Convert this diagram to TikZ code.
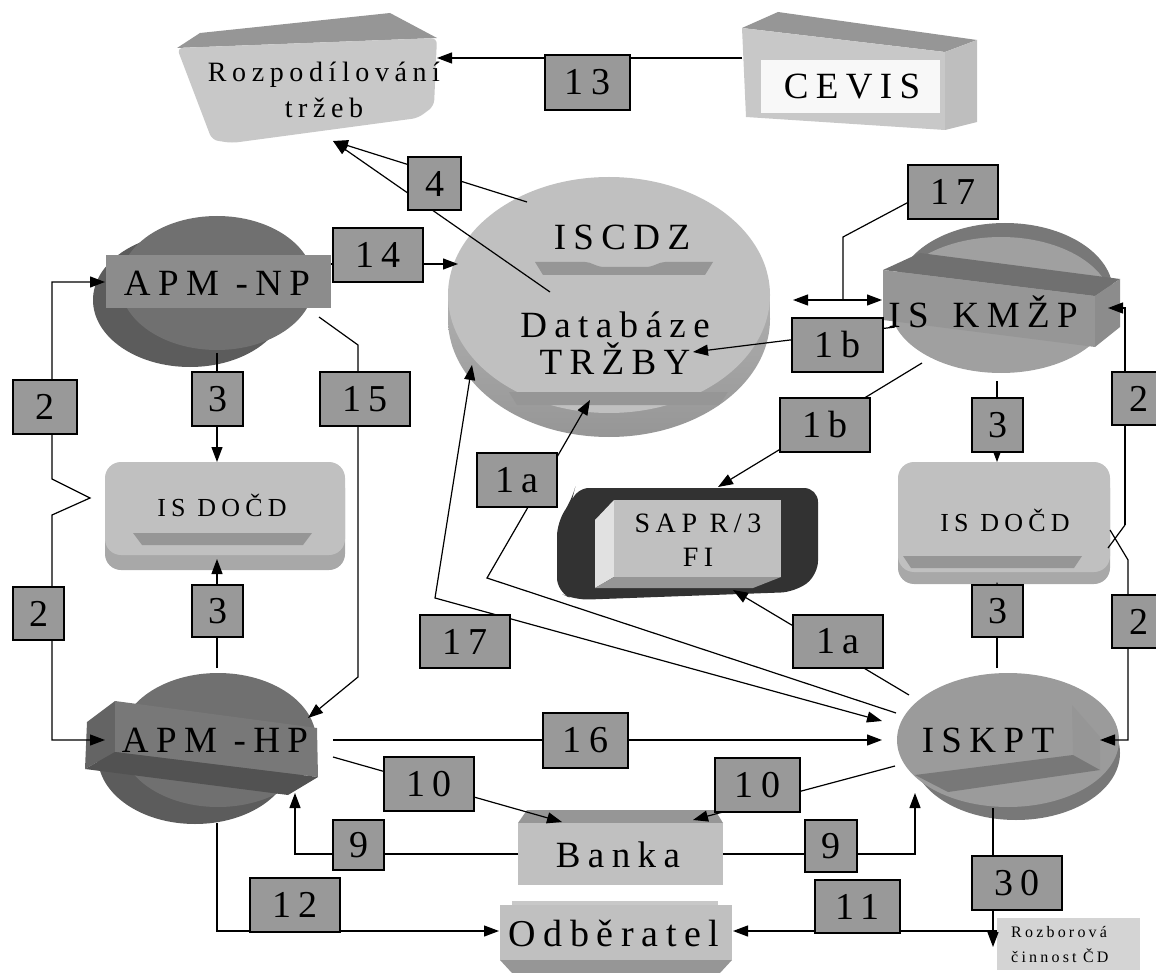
\documentclass[tikz,border=0pt]{standalone}
\usepackage{fontspec}
\setmainfont{Liberation Serif}
\newfontfamily\spaced[LetterSpace=20]{Liberation Serif}
\usetikzlibrary{arrows.meta}

\definecolor{lblgray}{RGB}{153,153,153}
\definecolor{c50}{RGB}{50,50,50}
\definecolor{c80}{RGB}{82,82,82}
\definecolor{c90}{RGB}{92,92,92}
\definecolor{c100}{RGB}{100,100,100}
\definecolor{c112}{RGB}{112,112,112}
\definecolor{c120}{RGB}{120,120,120}
\definecolor{c140}{RGB}{140,140,140}
\definecolor{c150}{RGB}{150,150,150}
\definecolor{c155}{RGB}{155,155,155}
\definecolor{c160}{RGB}{160,160,160}
\definecolor{c165}{RGB}{168,168,168}
\definecolor{c180}{RGB}{180,180,180}
\definecolor{c190}{RGB}{190,190,190}
\definecolor{c192}{RGB}{192,192,192}
\definecolor{c200}{RGB}{200,200,200}
\definecolor{c212}{RGB}{212,212,212}
\definecolor{c225}{RGB}{225,225,225}
\definecolor{c248}{RGB}{248,248,248}

\newcommand\tsz[2]{\spaced\fontsize{#1}{#2}\selectfont}
% label box given by its corners: name, x1, y1, x2, y2, text
\newcommand\lbox[6]{\node[lbl, minimum width={(#4-#2)*1pt}, minimum height={(#5-#3)*1pt}] (#1) at ({(#2+#4)/2},{(#3+#5)/2}) {#6};}

\tikzset{
  lbl/.style={draw=black, line width=1.2pt, fill=lblgray, inner sep=0pt, font=\tsz{38}{38}},
  txt/.style={inner sep=0pt, align=center},
  con/.style={line width=1.2pt},
  arr/.style={con, -{Triangle[length=15pt,width=11pt]}},
  arrs/.style={con, {Triangle[length=15pt,width=11pt]}-{Triangle[length=15pt,width=11pt]}},
}

\begin{document}
\begin{tikzpicture}[x=1pt,y=-1pt]
\useasboundingbox (0,0) rectangle (1156,973);

% ---------- Rozpodilovani trzeb
\fill[c150] (177,48) -- (200,33) -- (390,13) -- (437,38) -- cycle;
\fill[c200, rounded corners=6] (177,48) -- (437,38) -- (434,106) -- (418,118) -- (232,143) -- (212,140) -- cycle;
\node[txt, font=\tsz{28}{36}] (rozp) at (324,90) {Rozpodílování\\tržeb};

% ---------- CEVIS
\fill[c150] (742,28) -- (778,12) -- (977,40) -- (945,52) -- cycle;
\fill[c200] (742,28) -- (945,52) -- (945,130) -- (746,117) -- cycle;
\fill[c190] (945,52) -- (977,40) -- (977,122) -- (945,130) -- cycle;
\fill[c248] (761,60) rectangle (940,113);
\node[txt, font=\tsz{37}{37}] (cevis) at (852,87) {CEVIS};

% ---------- ISCDZ / Databaze TRZBY
\fill[c180] (448,295) rectangle (770,319);
\shade[top color=c192, bottom color=c150] (609,319) ellipse [x radius=161pt, y radius=118pt];
\fill[c192] (609,295) ellipse [x radius=161pt, y radius=118pt];
\fill[c150] (535,262) -- (585,262) .. controls (592,262) and (595,267) .. (605,267)
  -- (645,267) .. controls (655,267) and (658,262) .. (665,262) -- (713,262) -- (705,275) -- (543,275) -- cycle;
\fill[c150] (509,392) -- (728,392) -- (719,405) -- (517,405) -- cycle;
\node[txt, font=\tsz{37}{37}] (iscdz) at (622,237) {ISCDZ};
\node[txt, font=\tsz{37}{37}] (db) at (615,343) {Databáze\\TRŽBY};

% ---------- APM-NP
\fill[c90] (190,300) ellipse [x radius=97pt, y radius=67pt];
\fill[c112] (217,283) ellipse [x radius=97pt, y radius=67pt];
\fill[c140] (106,255) rectangle (331,308);
\node[txt, font=\tsz{37}{37}] (apmnp) at (217,283) {APM -NP};

% ---------- APM-HP
\fill[c90] (195,757) ellipse [x radius=97pt, y radius=67pt];
\fill[c112] (218,740) ellipse [x radius=98pt, y radius=67pt];
\fill[c100] (87,722) -- (115,701) -- (115,752) -- (85,769) -- cycle;
\fill[c120] (115,701) -- (317,728) -- (318,777) -- (115,752) -- cycle;
\fill[c80] (85,769) -- (115,752) -- (318,777) -- (288,795) -- cycle;
\node[txt, font=\tsz{37}{37}] (apmhp) at (215,740) {APM -HP};

% ---------- IS KMZP
\fill[c120] (1005,292) ellipse [x radius=108pt, y radius=69pt];
\fill[c160] (1001,305) ellipse [x radius=111pt, y radius=68pt];
\fill[c112] (883,270) -- (920,253) -- (1120,279) -- (1095,296) -- cycle;
\fill[c150] (883,270) -- (1095,296) -- (1095,347) -- (883,320) -- cycle;
\fill[c140] (1095,296) -- (1120,279) -- (1120,327) -- (1095,347) -- cycle;
\node[txt, font=\tsz{37}{37}] (iskmzp) at (983,312) {IS~\hspace{0.2em}KMŽP};

% ---------- ISKPT
\fill[c120] (1016,753) ellipse [x radius=104pt, y radius=67pt];
\fill[c155] (1008,740) ellipse [x radius=111pt, y radius=67pt];
\fill[c150] (1072,705) -- (1100,737) -- (1100,770) -- (1073,755) -- cycle;
\fill[c120] (915,775) -- (1073,755) -- (1100,770) -- (948,792) -- cycle;
\node[txt, font=\tsz{37}{37}] (iskpt) at (988,740) {ISKPT};

% ---------- IS DOCD (left)
\fill[c165, rounded corners=16] (105,472) rectangle (345,570);
\fill[c192, rounded corners=16] (105,462) rectangle (345,555);
\fill[c150] (133,533) -- (312,533) -- (303,545) -- (142,545) -- cycle;
\node[txt, font=\tsz{26}{26}] (isdocl) at (222,505) {IS DOČD};

% ---------- IS DOCD (right)
\fill[c165, rounded corners=16] (898,472) rectangle (1110,584);
\fill[c192, rounded corners=16] (898,462) rectangle (1110,572);
\fill[c150] (903,556) -- (1082,556) -- (1074,568) -- (911,568) -- cycle;
\node[txt, font=\tsz{26}{26}] (isdocr) at (1005,520) {IS DOČD};

% ---------- SAP R/3 FI
\fill[c50, rounded corners=14] (575,488) -- (818,488) -- (818,575) -- (795,592) -- (575,600)
  -- (557,592) -- (557,522) -- (572,500) -- cycle;
\fill[c225] (595,520) -- (614,500) -- (614,577) -- (595,588) -- cycle;
\fill[c192] (614,500) rectangle (781,577);
\fill[c150] (595,588) -- (614,577) -- (781,577) -- (753,588) -- cycle;
\node[txt, font=\tsz{28}{34}] (sap) at (698,540) {SAP~R/3\\FI};

% ---------- Banka
\fill[c150] (518,823) -- (527,810) -- (715,810) -- (723,823) -- cycle;
\fill[c192] (518,823) rectangle (723,885);
\node[txt, font=\tsz{37}{37}] (banka) at (618,855) {Banka};

% ---------- Odberatel
\fill[c150] (500,960) -- (512,973) -- (720,973) -- (732,960) -- cycle;
\fill[c192] (500,905) rectangle (732,960);
\fill[c200] (512,901) rectangle (718,905);
\node[txt, font=\tsz{38}{38}] (odb) at (614,933) {Odběratel};

% ---------- Rozborova cinnost CD
\node[fill=c212, anchor=north west, minimum width=143pt, minimum height=52pt,
      text width=115pt, inner xsep=14pt, inner ysep=0pt, align=left,
      font=\tsz{16}{25}] (rozb) at (997,918) {Rozborová\\činnost\hspace{0.4em}ČD};

% ---------- connector end points
\coordinate (rozp-e) at (437,58);
\coordinate (rozp-s) at (333,141);
\coordinate (cevis-w) at (742,58);
\coordinate (iscdz-p1) at (527,202);
\coordinate (iscdz-p2) at (550,292);
\coordinate (iscdz-w) at (458,264);
\coordinate (iscdz-e) at (793,300);
\coordinate (iscdz-e2) at (693,352);
\coordinate (iscdz-s) at (590,400);
\coordinate (iscdz-sw) at (472,365);
\coordinate (apmnp-e) at (331,264);
\coordinate (apmnp-se) at (319,317);
\coordinate (apmnp-s) at (217,353);
\coordinate (apmnp-w) at (105,282);
\coordinate (apmhp-w) at (105,740);
\coordinate (apmhp-n) at (217,668);
\coordinate (apmhp-ne) at (308,718);
\coordinate (apmhp-e) at (333,740);
\coordinate (apmhp-e2) at (333,757);
\coordinate (apmhp-s) at (295,793);
\coordinate (apmhp-s2) at (217,823);
\coordinate (isdocl-n) at (217,462);
\coordinate (isdocl-s) at (217,559);
\coordinate (isdocr-n) at (997,462);
\coordinate (isdocr-s) at (997,582);
\coordinate (iskmzp-w) at (882,300);
\coordinate (iskmzp-w2) at (895,327);
\coordinate (iskmzp-sw) at (922,363);
\coordinate (iskmzp-s) at (997,381);
\coordinate (iskmzp-e) at (1108,308);
\coordinate (iskpt-w) at (882,740);
\coordinate (iskpt-w2) at (895,766);
\coordinate (iskpt-nw) at (882,721);
\coordinate (iskpt-nw2) at (896,713);
\coordinate (iskpt-nw3) at (909,695);
\coordinate (iskpt-n) at (997,668);
\coordinate (iskpt-e) at (1100,740);
\coordinate (iskpt-s) at (915,793);
\coordinate (iskpt-s2) at (993,808);
\coordinate (sap-n) at (718,487);
\coordinate (sap-s) at (733,590);
\coordinate (banka-n1) at (562,822);
\coordinate (banka-n2) at (693,820);
\coordinate (banka-w) at (518,854);
\coordinate (banka-e) at (723,854);
\coordinate (odb-w) at (499,931);
\coordinate (odb-e) at (733,931);
\coordinate (rozb-w) at (997,931);
\coordinate (rozb-tip) at (993,947);

% ---------- connectors
\draw[arr] (cevis-w) -- (rozp-e);
\draw[arr] (iscdz-p1) -- (rozp-s);
\draw[arr] (iscdz-p2) -- (rozp-s);
\draw[arr] (apmnp-e) -- (iscdz-w);
\draw[arr] (apmnp-se) -- (358,345) -- (358,677) -- (apmhp-ne);
\draw[arr] (apmnp-s) -- (isdocl-n);
\draw[arr] (apmhp-n) -- (isdocl-s);
\draw[arrs] (apmnp-w) -- (52,282) -- (52,479) -- (90,498) -- (52,515) -- (52,740) -- (apmhp-w);
\draw[arr] (apmhp-e) -- (iskpt-w);
\draw[arr] (apmhp-e2) -- (banka-n1);
\draw[arr] (iskpt-w2) -- (banka-n2);
\draw[arr] (banka-w) -- (295,854) -- (apmhp-s);
\draw[arr] (banka-e) -- (915,854) -- (iskpt-s);
\draw[arr] (apmhp-s2) -- (217,931) -- (odb-w);
\draw[arr] (rozb-w) -- (odb-e);
\draw[arr] (iskpt-s2) -- (rozb-tip);
\draw[arrs] (iscdz-e) -- (iskmzp-w);
\draw[con] (843,300) -- (843,237) -- (920,196);
\draw[arrs] (iscdz-sw) -- (435,598) -- (iskpt-nw);
\draw[arr] (iskpt-nw2) -- (487,578) -- (iscdz-s);
\draw[arr] (iskpt-nw3) -- (sap-s);
\draw[arr] (iskmzp-w2) -- (iscdz-e2);
\draw[arr] (iskmzp-sw) -- (sap-n);
\draw[arr] (iskmzp-s) -- (isdocr-n);
\draw[arr] (iskpt-n) -- (isdocr-s);
\draw[arr] (1125,525) -- (1125,308) -- (iskmzp-e);
\draw[con] (1125,525) -- (1108,548);
\draw[arr] (1110,530) -- (1128,560) -- (1128,740) -- (iskpt-e);

% ---------- label boxes
\lbox{l13}{545}{55}{630}{110}{13}
\lbox{l4}{408}{157}{461}{210}{4}
\lbox{l17a}{908}{165}{998}{219}{17}
\lbox{l14}{333}{228}{423}{282}{14}
\lbox{l15}{320}{372}{410}{426}{15}
\lbox{l3a}{192}{372}{243}{426}{3}
\lbox{l2a}{13}{380}{77}{434}{2}
\lbox{l2b}{13}{587}{64}{640}{2}
\lbox{l3b}{192}{585}{243}{637}{3}
\lbox{l1a}{477}{453}{557}{507}{1a}
\lbox{l1b}{792}{318}{883}{372}{1b}
\lbox{l1bb}{780}{398}{870}{452}{1b}
\lbox{l3c}{972}{398}{1023}{452}{3}
\lbox{l2c}{1112}{372}{1165}{425}{2}
\lbox{l17b}{420}{615}{510}{668}{17}
\lbox{l1aa}{793}{615}{883}{668}{1a}
\lbox{l3d}{972}{585}{1023}{637}{3}
\lbox{l2d}{1112}{595}{1165}{648}{2}
\lbox{l16}{543}{713}{628}{768}{16}
\lbox{l10a}{384}{757}{474}{811}{10}
\lbox{l10b}{715}{758}{800}{812}{10}
\lbox{l9a}{333}{820}{384}{870}{9}
\lbox{l9b}{805}{820}{857}{872}{9}
\lbox{l12}{250}{878}{340}{932}{12}
\lbox{l11}{815}{880}{900}{933}{11}
\lbox{l30}{972}{856}{1062}{910}{30}
\end{tikzpicture}
\end{document}
